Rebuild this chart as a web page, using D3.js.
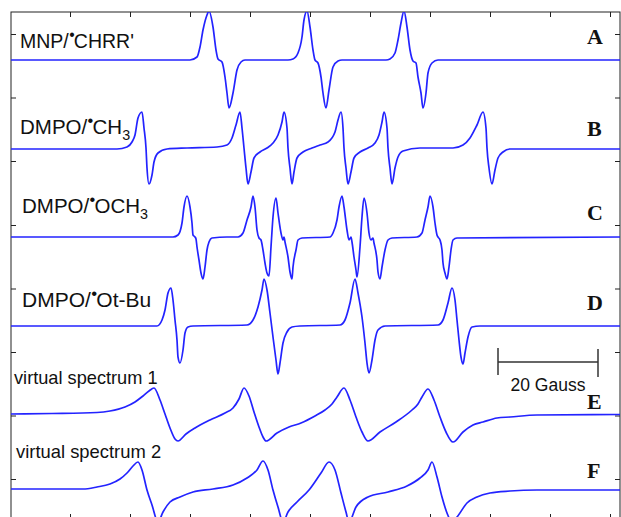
<!DOCTYPE html>
<html>
<head>
<meta charset="utf-8">
<script src="https://cdn.jsdelivr.net/npm/d3@7"></script>
<style>
  body { margin: 0; background: #fff; }
  svg { display: block; }
</style>
</head>
<body>
<div id="chart"></div>
<script>
// field in Gauss (from left edge of sweep), intensity in arbitrary units
var traceA = [[0,0],[35.8,0],[37.2,0.6],[37.8,2.6],[38.4,6],[39.2,9],[39.6,9.8],[40.4,6.6],[41,2],[41.4,0.2],[42.2,-0.4],[42.8,-3.4],[43.2,-6.6],[43.6,-9.6],[44.4,-6.6],[45.2,-2],[46,-0.4],[46.8,0],
  [55.4,0],[56.4,0.2],[57.4,1.4],[58.2,4.6],[58.6,8],[59.2,9.8],[59.8,6.6],[60.4,2],[60.8,0],[61.4,-0.6],[62,-3.4],[62.4,-6.6],[63,-9.6],[63.6,-6],[64.4,-1.4],[65.4,-0.2],[66.2,0],
  [75,0],[75.8,0.2],[76.8,1.4],[77.4,4],[78,7.4],[78.6,9.8],[79.2,6.6],[79.8,2],[80.4,-0.2],[81,-0.6],[81.4,-3.4],[82,-6.6],[82.4,-9.6],[83,-6.6],[83.4,-2.6],[84.2,-0.6],[85.4,0],[121.8,0]];

var traceB = [[0,0],[21.2,0],[23.2,0.4],[24.2,1.4],[24.8,2.8],[25.4,6.2],[26.2,7.4],[26.6,4.2],[27,0.2],[27.2,-3.8],[27.6,-7],[28.2,-5.2],[28.6,-2.6],[29.4,-0.8],[31.2,0],
  [35.2,0.2],[41.2,0.4],[43.2,0.8],[44.2,2.2],[45,4.8],[45.8,7.4],[46.2,4.2],[46.6,0.2],[47,-3.8],[47.4,-7],[48,-4.6],[48.6,-1.8],[49.8,-0.6],
  [51.2,0.2],[52.4,1.2],[53.4,2.8],[54.2,5.4],[54.6,7.4],[55.2,4.2],[55.4,0.2],[55.8,-3.8],[56.2,-7],[56.6,-4.6],[57.2,-1.8],[58.4,-0.6],
  [60.2,0.2],[61.8,0.8],[63.4,1.4],[64.8,3.4],[65.4,5.8],[66,7.4],[66.4,4.2],[66.6,0.2],[67,-3.8],[67.4,-7],[68,-4.6],[68.6,-1.8],[69.8,-0.6],
  [71.4,0.2],[72.8,1.2],[73.6,2.8],[74.2,5.4],[74.6,7.4],[75.2,4.2],[75.4,0.2],[75.8,-3.8],[76.2,-7],[76.8,-3.8],[77.4,-1.6],[78.4,-0.4],
  [81.8,0.2],[88.4,0.2],[90.4,0.8],[91.8,2.2],[93.2,4.8],[94.4,7.4],[95,4.2],[95.2,0.2],[95.6,-3.8],[96.2,-7],[96.8,-4.2],[97.4,-1.8],[98.4,-0.6],[99.8,0],[121.8,0]];

var traceC = [[0,0],[32.4,0],[33.4,0.4],[34.2,2.8],[34.6,6],[35.2,8.2],[35.8,6],[36.2,2.8],[36.4,0.4],[36.8,0],[37,-0.4],[37.2,-2],[37.6,-4.6],[38,-7.2],[38.4,-8.4],[38.8,-6],[39.2,-2.6],[39.6,-1],[40.2,-0.2],[43.2,0],
  [45.4,0],[46.4,0.8],[47.2,3.4],[48,6],[48.4,8.2],[48.8,6],[49.2,1.4],[49.6,-0.2],[50,-0.6],[50.4,-2.6],[50.8,-5.2],[51.2,-7.2],[51.6,-7.8],
  [52,-2],[52.4,4],[53,7.8],[53.4,4.8],[54,0.8],[54.4,-0.6],[54.6,0],[54.8,-1],[55.4,-4],[55.8,-7],[56.2,-8.4],[56.4,-6],[57,-2.6],[57.4,-0.6],[58.2,-0.2],
  [63.8,0],[64.4,0.8],[65.2,3.4],[65.6,6],[66.2,8.2],[66.6,6],[67.2,1.4],[67.6,-0.6],[68,0],[68.2,-1],[68.6,-4],[69,-6.6],[69.2,-8],
  [69.8,-2],[70.2,4],[70.6,7.8],[71.2,4.8],[71.6,0.8],[72,-0.6],[72.4,-0.2],[72.6,-1.2],[73.2,-4.6],[73.4,-7],[73.8,-8.4],[74.2,-6],[74.8,-2.6],[75.4,-0.6],[76.2,-0.2],
  [81.2,0],[82.2,0.8],[82.8,3.4],[83.4,6],[83.8,8.2],[84.4,6],[84.8,2.8],[85.2,0.4],[85.4,0],[85.8,-0.6],[86.2,-2.6],[86.4,-5.2],[86.8,-7.2],[87.2,-8.4],[87.6,-6],[88,-2.6],[88.4,-0.6],[89.2,-0.2],[121.8,0]];

var traceD = [[0,0],[29.2,0],[30.2,1.2],[30.8,3.2],[31.4,6.6],[32,7.6],[32.4,5.2],[32.8,1.2],[33.2,-2.8],[33.4,-6.2],[33.8,-7.4],[34.4,-4.8],[34.8,-1.4],[35.4,-0.2],[36.4,0],
  [47.2,0.2],[48.4,1.2],[49.4,3.8],[50.2,7.2],[50.6,9.4],[51.2,7.2],[51.8,2.6],[52.4,-2.2],[53,-6.8],[53.4,-9.6],[53.8,-7.4],[54.4,-3.4],[55.2,-1.2],[56.2,-0.2],[57.8,0],
  [65.8,0.2],[66.8,1.2],[67.8,4.6],[68.8,9.4],[69.4,6.6],[70.2,1.8],[70.8,-3.4],[71.2,-7.4],[71.6,-9.4],[72.2,-6.8],[72.8,-2.8],[73.4,-0.8],[74.8,0],
  [85.4,0.2],[86.4,1.2],[87.4,4.6],[88.2,7.6],[88.8,5.2],[89.2,1.2],[89.6,-2.8],[90,-6.2],[90.4,-7.6],[90.8,-5.4],[91.4,-2.2],[92.2,-0.2],[93.8,0],[121.8,0]];

var traceE = [[0,0],[8.2,0.1],[17.2,0.3],[19.8,0.6],[22.8,1.4],[24.8,2.4],[26.4,3.6],[27.6,4.6],[28.6,5.2],[29.8,2.8],[30.8,0],[31.8,-2.8],[32.8,-5],[33.4,-5.4],
  [35,-4],[36.8,-2.8],[39.8,-1.2],[42.8,0.2],[44.4,1.2],[45.6,3],[46.6,5.2],[47.6,3.6],[48.6,0.4],[49.6,-2.6],[50.4,-4.6],[51,-5.4],
  [53.2,-3.8],[55.6,-2.6],[58,-1.8],[60.8,-0.4],[62.8,0.8],[64.2,2],[65.2,3.4],[66.6,5.2],[67.8,2.8],[69,-0.6],[70.2,-3.6],[71.4,-5.4],
  [73.8,-3.6],[77,-1.6],[80.2,0.8],[81.4,2],[82.2,3.4],[83.4,5],[84.6,2.8],[85.8,-0.6],[87,-3.6],[88.4,-5.6],
  [90.4,-3.6],[92.4,-2.2],[94.4,-1.6],[97.2,-0.8],[99.8,-0.6],[105.2,-0.2],[121.8,-0.1]];

var traceF = [[0,0],[14.4,0],[17.2,0.4],[19.8,1],[21.8,2],[23.2,3.2],[24.4,4.6],[25.4,5.4],[26.2,3.8],[27.2,-0.2],[28.2,-3.2],[29.4,-6.6],
  [30.4,-4.6],[31.8,-2.6],[33.8,-1.6],[36.4,-0.6],[40.4,0],[44.4,0.8],[47.2,2.2],[49.2,3.8],[50.4,5.6],[51.4,3.8],[52.4,-0.2],[53.4,-3.6],[54.4,-6.6],
  [55.4,-4.6],[57.2,-2.6],[59.6,-0.2],[62,3.2],[63.6,5.4],[64.8,3.8],[66,-0.8],[67,-4.6],[67.6,-6.6],
  [69,-3.6],[71.4,-1.6],[75.4,-0.6],[79.2,0.6],[81.8,2.2],[83.4,3.8],[84.2,5.4],[85.2,2.4],[86.2,-1.6],[87.2,-4.8],[88.2,-6.6],
  [89.2,-5.6],[91.2,-2.8],[93.2,-1.6],[95.8,-0.8],[99.8,-0.4],[105.2,-0.2],[121.8,-0.2]];

var traces = [traceA, traceB, traceC, traceD, traceE, traceF];
var offsets = [83.8, 66, 48.4, 30.6, 13, -2];
var letters = ["A", "B", "C", "D", "E", "F"];

var xTicks = [11.8, 23.8, 35.8, 47.8, 59.8, 71.8, 83.8, 95.8, 107.8, 119.8];
var yTicks = [0, 12.7, 25.4, 38.1, 50.8, 63.6, 76.3, 89.0];
var scaleBarGauss = [97.4, 117.4];

var W = 621, H = 517;
var x = d3.scaleLinear().domain([0, 121.8]).range([11, 620]);
var y = d3.scaleLinear().domain([-8, 93.4]).range([519, 12]);

var svg = d3.select("#chart").append("svg")
  .attr("width", W).attr("height", H);

svg.append("defs").append("clipPath").attr("id", "frameclip")
  .append("rect").attr("x", 11).attr("y", 12).attr("width", 609).attr("height", 507);

// axes: ticks inside, no labels
function styleAxis(g) {
  g.select(".domain").remove();
  g.selectAll(".tick line").attr("stroke", "#222").attr("stroke-width", 1);
}
svg.append("g").attr("transform", "translate(0,519)")
  .call(d3.axisBottom(x).tickValues(xTicks).tickSize(-5).tickFormat("")).call(styleAxis);
svg.append("g").attr("transform", "translate(0,12)")
  .call(d3.axisTop(x).tickValues(xTicks).tickSize(-5).tickFormat("")).call(styleAxis);
svg.append("g").attr("transform", "translate(11,0)")
  .call(d3.axisLeft(y).tickValues(yTicks).tickSize(-5).tickFormat("")).call(styleAxis);
svg.append("g").attr("transform", "translate(620,0)")
  .call(d3.axisRight(y).tickValues(yTicks).tickSize(-5).tickFormat("")).call(styleAxis);

svg.append("rect").attr("x", 11).attr("y", 12).attr("width", 609).attr("height", 507)
  .attr("fill", "none").attr("stroke", "#222").attr("stroke-width", 1);

var plot = svg.append("g").attr("clip-path", "url(#frameclip)");
traces.forEach(function(tr, k) {
  var line = d3.line()
    .x(function(d) { return x(d[0]); })
    .y(function(d) { return y(d[1] + offsets[k]); })
    .curve(d3.curveMonotoneX);
  plot.append("path").datum(tr)
    .attr("d", line)
    .attr("fill", "none")
    .attr("stroke", "#2323ff")
    .attr("stroke-width", 1.7)
    .attr("stroke-linejoin", "round");
});

// labels
var sans = "'Liberation Sans', Arial, Helvetica, sans-serif";
function radicalLabel(xp, yp, size, pre, post, sub) {
  var t = svg.append("text").attr("x", xp).attr("y", yp)
    .attr("font-family", sans).attr("font-size", size).attr("fill", "#111");
  t.append("tspan").text(pre);
  t.append("tspan").attr("font-size", size * 0.8).attr("dx", size * 0.02).attr("dy", -size * 0.4).text("\u2022");
  t.append("tspan").attr("dx", -size * 0.04).attr("dy", size * 0.4).text(post);
  if (sub) t.append("tspan").attr("font-size", size * 0.7).attr("dy", size * 0.28).text(sub);
}
radicalLabel(20, 48, 19.5, "MNP/", "CHRR'");
radicalLabel(20, 134, 20.5, "DMPO/", "CH", "3");
radicalLabel(22, 213, 20.5, "DMPO/", "OCH", "3");
radicalLabel(22, 307, 21, "DMPO/", "Ot-Bu");

svg.append("text").attr("x", 14).attr("y", 384).attr("font-family", sans).attr("font-size", 18.2)
  .attr("fill", "#111").text("virtual spectrum 1");
svg.append("text").attr("x", 16).attr("y", 458).attr("font-family", sans).attr("font-size", 18.4)
  .attr("fill", "#111").text("virtual spectrum 2");

var letterY = [43.5, 136, 220, 310, 409, 478];
svg.selectAll("text.letter").data(letters).enter().append("text")
  .attr("class", "letter")
  .attr("x", 587).attr("y", function(d, i) { return letterY[i]; })
  .attr("font-family", "'Liberation Serif', 'Times New Roman', serif")
  .attr("font-weight", "bold").attr("font-size", 22).attr("fill", "#111")
  .text(function(d) { return d; });

// 20 Gauss scale bar
var sb = svg.append("g").attr("stroke", "#333").attr("stroke-width", 1.5);
sb.append("line").attr("x1", x(scaleBarGauss[0])).attr("x2", x(scaleBarGauss[1])).attr("y1", 362).attr("y2", 362);
sb.append("line").attr("x1", x(scaleBarGauss[0])).attr("x2", x(scaleBarGauss[0])).attr("y1", 348).attr("y2", 375);
sb.append("line").attr("x1", x(scaleBarGauss[1])).attr("x2", x(scaleBarGauss[1])).attr("y1", 349).attr("y2", 377);
svg.append("text").attr("x", (x(scaleBarGauss[0]) + x(scaleBarGauss[1])) / 2).attr("y", 391)
  .attr("text-anchor", "middle").attr("font-family", sans).attr("font-size", 17.5).attr("fill", "#111")
  .text("20 Gauss");
</script>
</body>
</html>
